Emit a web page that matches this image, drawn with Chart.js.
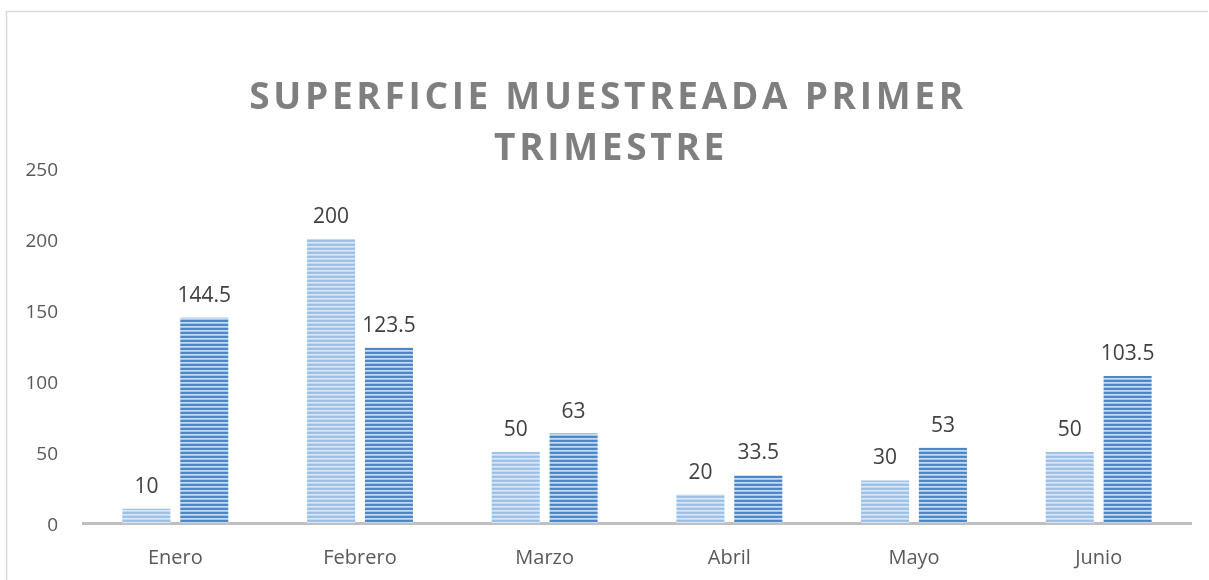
<!DOCTYPE html>
<html>
<head>
<meta charset="utf-8">
<script src="https://cdn.jsdelivr.net/npm/chart.js@4.4.0/dist/chart.umd.min.js"></script>
<style>
html,body{margin:0;padding:0;background:#fff;}
#wrap{position:absolute;left:0;top:0;width:1209px;height:580px;}
</style>
</head>
<body>
<div id="wrap"><canvas id="c" width="1209" height="580"></canvas></div>
<script>
const categories = ['Enero','Febrero','Marzo','Abril','Mayo','Junio'];
const seriesA = [10, 200, 50, 20, 30, 50];
const seriesB = [144.5, 123.5, 63, 33.5, 53, 103.5];
const yTicks = [0, 50, 100, 150, 200, 250];
const titleLines = ['SUPERFICIE MUESTREADA PRIMER', 'TRIMESTRE'];

function stripes(rows){
  const c = document.createElement('canvas');
  c.width = 4; c.height = rows.length;
  const x = c.getContext('2d');
  rows.forEach((col,i)=>{ x.fillStyle = col; x.fillRect(0,i,4,1); });
  return x.createPattern(c,'repeat');
}
const ctx = document.getElementById('c').getContext('2d');
const patA = stripes(['#9bc0e8','#a0c3e8','#dae7f7','#c4d9f1']);
const patB = stripes(['#4a86c5','#5189c7','#c6daef','#a8c5e5']);

const framePlugin = {
  id:'frame',
  beforeDraw(chart){
    const c = chart.ctx;
    c.save();
    c.fillStyle = '#fff';
    c.fillRect(0,0,chart.width,chart.height);
    c.strokeStyle = '#d9d9d9';
    c.lineWidth = 1.5;
    c.beginPath();
    c.moveTo(6.5,580); c.lineTo(6.5,11.5); c.lineTo(1208,11.5);
    c.stroke();
    c.fillStyle = '#7f7f7f';
    c.font = 'bold 37px "Open Sans"';
    c.letterSpacing = '3.7px';
    c.textAlign = 'center';
    c.textBaseline = 'middle';
    c.fillText(titleLines[0], 608, 98);
    c.fillText(titleLines[1], 611, 149);
    c.restore();
  }
};

const labelPlugin = {
  id:'vals',
  afterDatasetsDraw(chart){
    const c = chart.ctx;
    c.save();
    c.fillStyle = '#404040';
    c.font = '21px "Open Sans"';
    c.textAlign = 'center';
    c.textBaseline = 'middle';
    chart.data.datasets.forEach((ds,di)=>{
      chart.getDatasetMeta(di).data.forEach((bar,i)=>{
        c.fillText(String(ds.data[i]), bar.x, bar.y - 22);
      });
    });
    c.restore();
  }
};

new Chart(ctx, {
  type:'bar',
  data:{
    labels: categories,
    datasets:[
      {data: seriesA, backgroundColor: patA, borderWidth:0, categoryPercentage:0.627, barPercentage:0.83},
      {data: seriesB, backgroundColor: patB, borderWidth:0, categoryPercentage:0.627, barPercentage:0.83}
    ]
  },
  options:{
    responsive:false,
    animation:false,
    devicePixelRatio:1,
    layout:{padding:{top:168, right:18, left:0, bottom:0}},
    plugins:{legend:{display:false}, tooltip:{enabled:false}, title:{display:false}},
    scales:{
      x:{
        grid:{display:false, drawTicks:false},
        border:{display:true, color:'#bfbfbf', width:3},
        ticks:{color:'#595959', font:{family:'"Open Sans"', size:20}, padding:23},
        afterFit(s){ s.height = 57; }
      },
      y:{
        min:0, max:250,
        afterBuildTicks(s){ s.ticks = yTicks.map(v=>({value:v})); },
        grid:{display:false, drawTicks:false},
        border:{display:false},
        ticks:{color:'#595959', font:{family:'"Open Sans"', size:19}, padding:25, labelOffset:3},
        afterFit(s){ s.width = 83; }
      }
    }
  },
  plugins:[framePlugin, labelPlugin]
});
</script>
</body>
</html>
